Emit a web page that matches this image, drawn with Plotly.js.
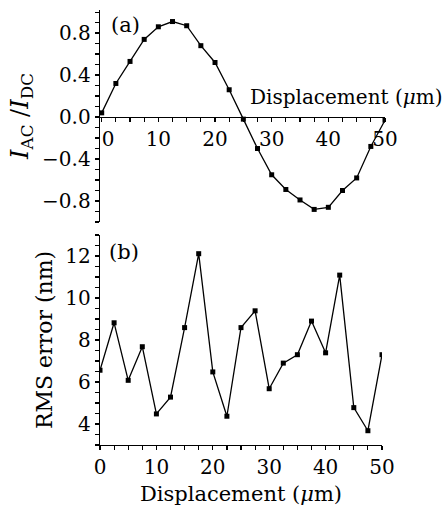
<!DOCTYPE html>
<html>
<head>
<meta charset="utf-8">
<script src="https://cdn.plot.ly/plotly-3.0.1.min.js"></script>
<style>html,body{margin:0;padding:0;background:#fff;}#chart{width:447px;height:515px;}</style>
</head>
<body>
<div id="chart"></div>
<script>
// Displacement (µm)
var displacement = [0, 2.5, 5, 7.5, 10, 12.5, 15, 17.5, 20, 22.5, 25, 27.5, 30, 32.5, 35, 37.5, 40, 42.5, 45, 47.5, 50];
// (a) I_AC / I_DC
var ratioACDC = [0.04, 0.32, 0.53, 0.74, 0.86, 0.91, 0.87, 0.68, 0.52, 0.26, -0.02, -0.30, -0.55, -0.69, -0.79, -0.88, -0.86, -0.70, -0.58, -0.28, -0.03];
// (b) RMS error (nm)
var rmsError = [6.56, 8.82, 6.08, 7.68, 4.48, 5.28, 8.59, 12.11, 6.48, 4.37, 8.59, 9.39, 5.68, 6.9, 7.3, 8.9, 7.39, 11.09, 4.78, 3.68, 7.3];
var xTickVals = [0, 10, 20, 30, 40, 50];
var xTickText = ['0', '10', '20', '30', '40', '50'];
var xTickTextTop = ['\u00a0\u00a00', '10', '20', '30', '40', '50'];

var FONT = 'DejaVu Serif, Liberation Serif, serif';
var FS = 20;

// figure geometry (pixels)
var W = 447, H = 515, mL = 100, mR = 62, mT = 10, mB = 70;
var plotW = W - mL - mR;
var plotH = H - mT - mB;
function py(px) { return (H - mB - px) / plotH; } // pixel y -> paper fraction
function pxx(px) { return (px - mL) / plotW; }    // pixel x -> paper fraction
var topDom = [py(222), py(10)];
var botDom = [0, py(235)];
var yRangeTop = [-1.0, 1.02];
var zeroPos = topDom[0] + (0 - yRangeTop[0]) / (yRangeTop[1] - yRangeTop[0]) * (topDom[1] - topDom[0]);

var lineStyle = {color: '#000', width: 1.3};
var markerStyle = {symbol: 'square', size: 5, color: '#000'};

var traces = [
  {x: displacement, y: ratioACDC, xaxis: 'x', yaxis: 'y', type: 'scatter', mode: 'lines+markers',
   line: lineStyle, marker: markerStyle, showlegend: false},
  {x: displacement, y: rmsError, xaxis: 'x2', yaxis: 'y2', type: 'scatter', mode: 'lines+markers',
   line: lineStyle, marker: markerStyle, showlegend: false}
];

var axFont = {family: FONT, size: FS, color: '#000'};
var commonAx = {showgrid: false, zeroline: false, showline: true, linecolor: '#000', linewidth: 1.3,
  ticks: 'outside', ticklen: 4, tickwidth: 1.2, tickcolor: '#000', tickfont: axFont};

var layout = {
  width: W, height: H,
  margin: {l: mL, r: mR, t: mT, b: mB, pad: 0},
  paper_bgcolor: '#fff', plot_bgcolor: '#fff',
  font: axFont,
  showlegend: false,
  xaxis: Object.assign({}, commonAx, {
    domain: [0, 1], range: [-0.3, 50], anchor: 'free', position: zeroPos, side: 'bottom',
    tickmode: 'array', tickvals: xTickVals, ticktext: xTickTextTop,
    minor: {dtick: 2.5, tick0: 0, ticks: 'outside', ticklen: 4, tickcolor: '#000', tickwidth: 1.2}
  }),
  yaxis: Object.assign({}, commonAx, {
    domain: topDom, range: yRangeTop, anchor: 'x', tickmode: 'linear', tick0: 0, dtick: 0.4, tickformat: '.1f',
    minor: {dtick: 0.1, tick0: 0, ticks: 'outside', ticklen: 4, tickcolor: '#000', tickwidth: 1.2},
    title: {text: '<i>I</i><sub>AC</sub> /<i>I</i><sub>DC</sub>', font: {family: FONT, size: 24, color: '#000'}, standoff: 6}
  }),
  xaxis2: Object.assign({}, commonAx, {
    domain: [0, pxx(382)], range: [0, 50], anchor: 'y2',
    tickmode: 'array', tickvals: xTickVals, ticktext: xTickText,
    minor: {dtick: 2.5, tick0: 0, ticks: 'outside', ticklen: 4, tickcolor: '#000', tickwidth: 1.2},
    title: {text: 'Displacement (<i>μ</i>m)', font: {family: FONT, size: 21, color: '#000'}, standoff: 8}
  }),
  yaxis2: Object.assign({}, commonAx, {
    domain: botDom, range: [3, 13], anchor: 'x2', tickmode: 'array', tickvals: [4, 6, 8, 10, 12],
    minor: {dtick: 0.5, tick0: 3, ticks: 'outside', ticklen: 4, tickcolor: '#000', tickwidth: 1.2},
    title: {text: 'RMS error (nm)', font: {family: FONT, size: 22, color: '#000'}, standoff: 6}
  }),
  annotations: [
    {text: 'Displacement (<i>μ</i>m)', xref: 'paper', yref: 'paper', x: pxx(445), y: zeroPos, yshift: 20,
     xanchor: 'right', yanchor: 'middle', showarrow: false, font: {family: FONT, size: 20, color: '#000'}},
    {text: '(a)', xref: 'x', yref: 'y', x: 1.2, y: 0.88, xanchor: 'left', yanchor: 'middle', showarrow: false,
     font: {family: FONT, size: 21, color: '#000'}},
    {text: '(b)', xref: 'x2', yref: 'y2', x: 1.2, y: 12.2, xanchor: 'left', yanchor: 'middle', showarrow: false,
     font: {family: FONT, size: 21, color: '#000'}}
  ]
};

Plotly.newPlot('chart', traces, layout, {displayModeBar: false, staticPlot: true});
</script>
</body>
</html>
